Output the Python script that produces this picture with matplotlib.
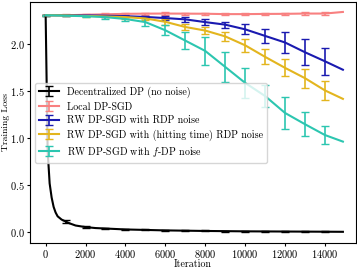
import numpy as np
import matplotlib
matplotlib.use("Agg")
import matplotlib.pyplot as plt

plt.rcParams['font.family'] = ['cmr10', 'DejaVu Serif']
plt.rcParams['mathtext.fontset'] = 'cm'
plt.rcParams['axes.formatter.use_mathtext'] = True
plt.rcParams['font.size'] = 7.5

# ---- data ----
iters = [0, 1000, 2000, 3000, 4000, 5000, 6000, 7000, 8000, 9000, 10000,
         11000, 12000, 13000, 14000, 14900]

black_iters = [0, 100, 200, 300, 400, 500, 600, 800, 1000, 1200, 1500, 2000,
               2500, 3000, 4000, 5000, 6000, 7000, 8000, 9000, 10000, 11000,
               12000, 13000, 14000, 14900]
black_loss = [2.31, 0.87, 0.52, 0.37, 0.27, 0.21, 0.17, 0.135, 0.115, 0.095,
              0.072, 0.055, 0.045, 0.04, 0.03, 0.025, 0.02, 0.017, 0.014,
              0.012, 0.01, 0.009, 0.008, 0.007, 0.006, 0.005]
black_err = [0.0, 0.0, 0.0, 0.0, 0.0, 0.0, 0.0, 0.0, 0.015, 0.0, 0.0, 0.01,
             0.0, 0.008, 0.006, 0.006, 0.005, 0.005, 0.005, 0.005, 0.005,
             0.005, 0.005, 0.005, 0.005, 0.0]

red_loss = [2.31, 2.31, 2.315, 2.32, 2.325, 2.327, 2.328, 2.327, 2.326, 2.322,
            2.322, 2.324, 2.325, 2.328, 2.328, 2.345]
red_err = [0.005, 0.008, 0.008, 0.01, 0.012, 0.012, 0.012, 0.012, 0.012,
           0.012, 0.012, 0.012, 0.012, 0.012, 0.013, 0.0]

blue_loss = [2.31, 2.31, 2.308, 2.305, 2.30, 2.292, 2.28, 2.266, 2.237, 2.21,
             2.16, 2.09, 2.02, 1.916, 1.82, 1.73]
blue_err = [0.004, 0.006, 0.008, 0.01, 0.012, 0.015, 0.02, 0.025, 0.032,
            0.032, 0.053, 0.076, 0.108, 0.137, 0.145, 0.0]

yellow_loss = [2.31, 2.308, 2.303, 2.297, 2.29, 2.276, 2.24, 2.185, 2.147,
               2.085, 1.99, 1.867, 1.75, 1.64, 1.51, 1.42]
yellow_err = [0.004, 0.006, 0.008, 0.01, 0.015, 0.02, 0.035, 0.032, 0.04,
              0.05, 0.067, 0.08, 0.089, 0.10, 0.10, 0.0]

teal_loss = [2.31, 2.305, 2.30, 2.29, 2.27, 2.237, 2.15, 2.04, 1.93, 1.76,
             1.59, 1.45, 1.27, 1.15, 1.035, 0.965]
teal_err = [0.004, 0.008, 0.01, 0.015, 0.02, 0.04, 0.053, 0.09, 0.147, 0.16,
            0.163, 0.12, 0.175, 0.13, 0.10, 0.0]

labels = ["Decentralized DP (no noise)", "Local DP-SGD",
          "RW DP-SGD with RDP noise",
          "RW DP-SGD with (hitting time) RDP noise",
          "RW DP-SGD with $f$-DP noise"]
colors = ["black", "#f88080", "#1a1ab0", "#e3b51e", "#2cc6b0"]

fig = plt.figure(figsize=(3.57, 2.70), dpi=100)
ax = fig.add_axes([0.084, 0.099, 0.912, 0.895])

bi = np.array(black_iters)
ax.errorbar(bi, black_loss, yerr=black_err, errorevery=(bi % 1000 == 0),
            color=colors[0], lw=1.5, capsize=3, elinewidth=1.2,
            label=labels[0])

it = np.array(iters)
mask = it % 1000 == 0
for loss, err, c, lab in [(red_loss, red_err, colors[1], labels[1]),
                          (blue_loss, blue_err, colors[2], labels[2]),
                          (yellow_loss, yellow_err, colors[3], labels[3]),
                          (teal_loss, teal_err, colors[4], labels[4])]:
    ax.errorbar(it, loss, yerr=err, errorevery=mask, color=c, lw=1.5,
                capsize=3, elinewidth=1.2, label=lab)

ax.set_xlim(-785, 15535)
ax.set_ylim(-0.117, 2.455)
ax.set_xticks(range(0, 14001, 2000))
ax.set_yticks([0.0, 0.5, 1.0, 1.5, 2.0])
ax.set_xlabel("Iteration", fontsize=7.2)
ax.set_ylabel("Training Loss", fontsize=7)
ax.xaxis.set_label_coords(0.5, -0.066)
ax.yaxis.set_label_coords(-0.062, 0.5)
ax.tick_params(labelsize=7.5, length=2.5, width=0.8, pad=1.2)

leg = ax.legend(loc="upper left", bbox_to_anchor=(0.015, 0.664),
                borderaxespad=0, fontsize=7.2, framealpha=0.8,
                handlelength=2.0, labelspacing=0.4)

fig.savefig("out.png", dpi=100)
